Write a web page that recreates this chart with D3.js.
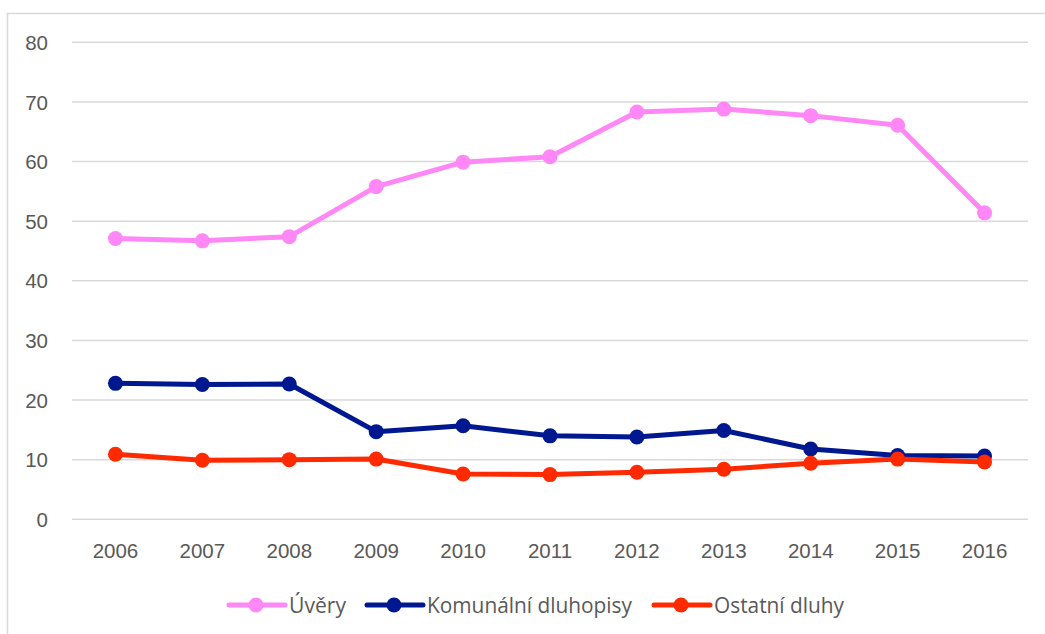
<!DOCTYPE html>
<html><head><meta charset="utf-8">
<script src="https://cdn.jsdelivr.net/npm/d3@7"></script>
<style>body{margin:0;background:#fff;}svg{display:block;font-family:"Open Sans","Liberation Sans",sans-serif;}</style>
</head><body><svg id="c" width="1045" height="634"></svg>
<script>
const years = ["2006","2007","2008","2009","2010","2011","2012","2013","2014","2015","2016"];
const uvery = [47.1,46.7,47.4,55.8,59.9,60.8,68.3,68.8,67.7,66.1,51.4];
const komunalni = [22.8,22.6,22.7,14.7,15.7,14.0,13.8,14.9,11.8,10.7,10.6];
const ostatni = [10.9,9.9,10.0,10.1,7.6,7.5,7.9,8.4,9.4,10.1,9.6];
const yTicks = [0,10,20,30,40,50,60,70,80];
const seriesNames = ["Úvěry","Komunální dluhopisy","Ostatní dluhy"];
const colors = ["#FF88F6","#00188F","#FF2A00"];

const svg = d3.select("#c");
svg.append("rect").attr("x",7.5).attr("y",13.5).attr("width",1045).attr("height",640)
  .attr("fill","#fff").attr("stroke","#d9d9d9").attr("stroke-width",1.5);

const x = d3.scaleBand().domain(years).range([72,1028]);
const y = d3.scaleLinear().domain([0,80]).range([519.3,42.3]);

const grid = svg.append("g");
yTicks.forEach(t=>{
  grid.append("line").attr("x1",72).attr("x2",1028).attr("y1",y(t)).attr("y2",y(t))
    .attr("stroke","#d9d9d9").attr("stroke-width",1.5);
});
const yAxis = d3.axisLeft(y).tickValues(yTicks).tickSize(0).tickPadding(0);
const gy = svg.append("g").attr("transform","translate(48,0)").call(yAxis);
gy.select(".domain").remove();
gy.selectAll("text").attr("fill","#595959").attr("font-size",20.5).attr("text-anchor","end").attr("dy","0.35em");

const xAxis = d3.axisBottom(x).tickSize(0).tickPadding(0);
const gx = svg.append("g").attr("transform","translate(0,551)").call(xAxis);
gx.select(".domain").remove();
gx.selectAll("text").attr("fill","#595959").attr("font-size",20.5).attr("dy","0.35em");

const data = [uvery,komunalni,ostatni];
const line = d3.line().x((d,i)=>x(years[i])+x.bandwidth()/2).y(d=>y(d));
data.forEach((s,k)=>{
  const g = svg.append("g");
  g.append("path").datum(s).attr("d",line).attr("fill","none").attr("stroke",colors[k])
    .attr("stroke-width",5).attr("stroke-linejoin","round");
  g.selectAll("circle").data(s).enter().append("circle")
    .attr("cx",(d,i)=>x(years[i])+x.bandwidth()/2).attr("cy",d=>y(d)).attr("r",7.5).attr("fill",colors[k]);
});

const legendX = [229,367,654];
const legendW = [57,205,130];
const lg = svg.append("g");
seriesNames.forEach((n,k)=>{
  const lx = legendX[k], ly = 605;
  lg.append("line").attr("x1",lx).attr("x2",lx+56).attr("y1",ly).attr("y2",ly)
    .attr("stroke",colors[k]).attr("stroke-width",5).attr("stroke-linecap","round");
  lg.append("circle").attr("cx",lx+27).attr("cy",ly).attr("r",7.5).attr("fill",colors[k]);
  lg.append("text").attr("x",lx+60).attr("y",ly).attr("dy","0.35em").attr("fill","#595959")
    .attr("font-size",22).attr("textLength",legendW[k]).attr("lengthAdjust","spacingAndGlyphs").text(n);
});
</script></body></html>
